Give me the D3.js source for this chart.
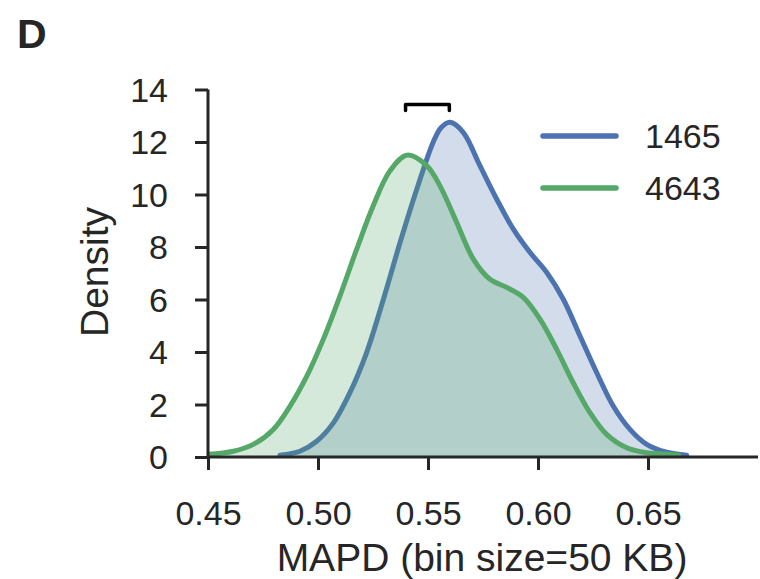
<!DOCTYPE html>
<html>
<head>
<meta charset="utf-8">
<script src="https://cdn.jsdelivr.net/npm/d3@7"></script>
<style>
  html, body { margin: 0; padding: 0; background: #fff; }
  svg { display: block; }
  text { font-family: "Liberation Sans", Arial, Helvetica, sans-serif; fill: #262626; }
</style>
</head>
<body>
<svg id="chart" width="760" height="579"></svg>
<script>
// Kernel density estimates of MAPD for the two samples
const seriesNames = ["1465", "4643"];
const seriesColors = ["#4c72b0", "#55a868"];

const mapd1465 = [0.4827, 0.4918, 0.4994, 0.5070, 0.5145, 0.5221, 0.5297, 0.5373, 0.5449, 0.5524,
                  0.5560, 0.5600, 0.5660, 0.5736, 0.5812, 0.5888, 0.5964, 0.6040, 0.6115, 0.6191,
                  0.6267, 0.6342, 0.6418, 0.6494, 0.6585, 0.6676];
const density1465 = [0.07, 0.22, 0.60, 1.30, 2.45, 3.98, 6.00, 8.17, 10.20, 12.00,
                     12.55, 12.75, 12.37, 11.10, 9.83, 8.68, 7.79, 7.03, 6.01, 4.61,
                     3.21, 1.94, 1.05, 0.48, 0.18, 0.07];

const mapd4643 = [0.4500, 0.4615, 0.4706, 0.4797, 0.4873, 0.4949, 0.5024, 0.5100, 0.5176, 0.5251,
                  0.5327, 0.5405, 0.5494, 0.5555, 0.5630, 0.5706, 0.5782, 0.5858, 0.5933, 0.6009,
                  0.6085, 0.6160, 0.6236, 0.6312, 0.6403, 0.6494, 0.6615, 0.6640];
const density4643 = [0.10, 0.22, 0.48, 1.05, 1.94, 3.08, 4.48, 6.14, 7.92, 9.57,
                     10.90, 11.50, 11.10, 10.32, 8.94, 7.54, 6.77, 6.46, 6.08, 5.25,
                     4.10, 2.83, 1.69, 0.86, 0.35, 0.16, 0.09, 0.07];

// Span of the comparison bracket above the peaks
const bracketSpan = [0.5398, 0.5597];

const xTicks = [0.45, 0.50, 0.55, 0.60, 0.65];
const yTicks = [0, 2, 4, 6, 8, 10, 12, 14];

const panelLabel = "D";
const xLabel = "MAPD (bin size=50 KB)";
const yLabel = "Density";

const series = [
  { name: seriesNames[0], color: seriesColors[0], pts: mapd1465.map((x, i) => ({ x, y: density1465[i] })) },
  { name: seriesNames[1], color: seriesColors[1], pts: mapd4643.map((x, i) => ({ x, y: density4643[i] })) }
];

const svg = d3.select("#chart");
const axisColor = "#262626";
const fontStack = "'Liberation Sans', Arial, sans-serif";

const x = d3.scaleLinear().domain([0.45, 0.70]).range([208, 758]);
const y = d3.scaleLinear().domain([0, 14]).range([457, 89.5]);

// Plot area clip so the curves stop at the axis limits
svg.append("defs").append("clipPath").attr("id", "plotClip")
  .append("rect").attr("x", x(0.45)).attr("y", 0).attr("width", 760 - x(0.45)).attr("height", y(0));

const area = d3.area().x(d => x(d.x)).y0(y(0)).y1(d => y(d.y)).curve(d3.curveCatmullRom.alpha(0.5));
const line = d3.line().x(d => x(d.x)).y(d => y(d.y)).curve(d3.curveCatmullRom.alpha(0.5));

const plot = svg.append("g").attr("clip-path", "url(#plotClip)");
series.forEach(s => {
  plot.append("path").datum(s.pts).attr("d", area)
    .attr("fill", s.color).attr("fill-opacity", 0.25).attr("stroke", "none");
  plot.append("path").datum(s.pts).attr("d", line)
    .attr("fill", "none").attr("stroke", s.color).attr("stroke-width", 5)
    .attr("stroke-linejoin", "round").attr("stroke-linecap", "round");
});

// Axes
const xAxis = d3.axisBottom(x).tickValues(xTicks).tickFormat(d3.format(".2f")).tickSize(13).tickPadding(31);
const gx = svg.append("g").attr("transform", `translate(0,${y(0)})`).call(xAxis);
gx.select(".domain").attr("d", `M${x(0.45)},0H${x(0.70)}`);

const yAxis = d3.axisLeft(y).tickValues(yTicks).tickFormat(d3.format("d")).tickSize(13).tickPadding(27);
const gy = svg.append("g").attr("transform", `translate(${x(0.45)},0)`).call(yAxis);
gy.select(".domain").attr("d", `M0,${y(0)}V${y(14)}`);

[gx, gy].forEach(g => {
  g.select(".domain").attr("stroke", axisColor).attr("stroke-width", 3).attr("fill", "none");
  g.selectAll(".tick line").attr("stroke", axisColor).attr("stroke-width", 3);
  g.selectAll(".tick text").attr("font-size", 34).attr("fill", axisColor).style("font-family", fontStack);
});
gy.selectAll(".tick text").attr("dy", "0.34em");
gx.selectAll(".tick text").attr("dy", "0.71em");

// Axis labels
svg.append("text").attr("x", 482).attr("y", 571).attr("text-anchor", "middle")
  .attr("font-size", 39).text(xLabel);
svg.append("text").attr("transform", "translate(108,272) rotate(-90)").attr("text-anchor", "middle")
  .attr("font-size", 39).text(yLabel);

// Panel label
svg.append("text").attr("x", 17).attr("y", 48).attr("font-size", 41).attr("font-weight", "bold")
  .text(panelLabel);

// Bracket linking the two density peaks
const bx0 = x(bracketSpan[0]), bx1 = x(bracketSpan[1]);
const bTop = 104.5, bLeg = 110.5;
svg.append("path")
  .attr("d", `M${bx0},${bLeg}V${bTop}H${bx1}V${bLeg}`)
  .attr("fill", "none").attr("stroke", "#000").attr("stroke-width", 3.5)
  .attr("stroke-linejoin", "round").attr("stroke-linecap", "round");

// Legend
const legend = svg.append("g");
series.forEach((s, i) => {
  const ly = 136 + i * 52;
  legend.append("line").attr("x1", 543).attr("x2", 616).attr("y1", ly).attr("y2", ly)
    .attr("stroke", s.color).attr("stroke-width", 5.5).attr("stroke-linecap", "round");
  legend.append("text").attr("x", 645).attr("y", ly).attr("dy", "0.36em")
    .attr("font-size", 34).text(s.name);
});
</script>
</body>
</html>
